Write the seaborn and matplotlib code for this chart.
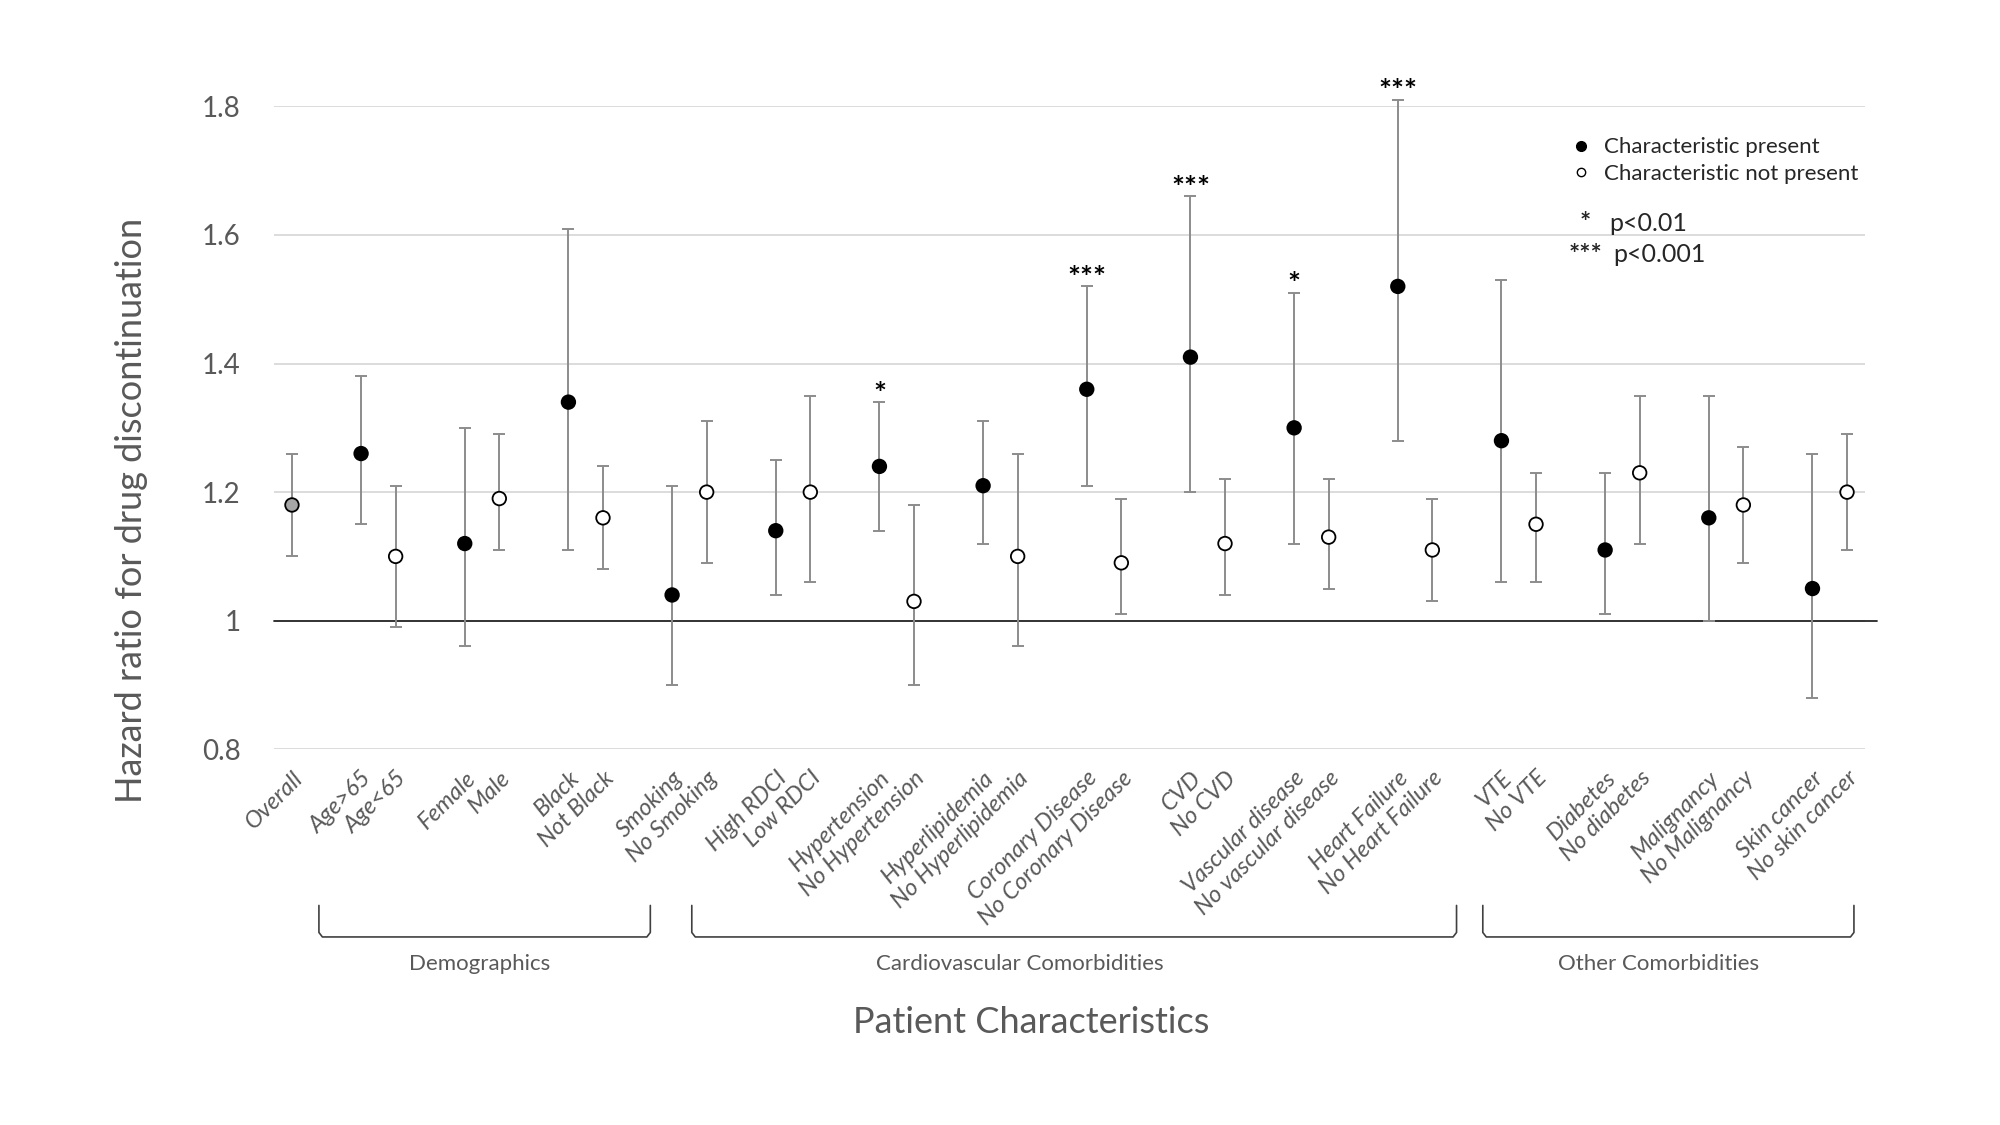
import numpy as np
import pandas as pd
import matplotlib
matplotlib.use("Agg")
import matplotlib.pyplot as plt
import matplotlib.transforms as mtransforms
from matplotlib.lines import Line2D
import seaborn as sns

# datos
etiquetas = ["Overall", "Age>65", "Age<65", "Female", "Male", "Black", "Not Black",
             "Smoking", "No Smoking", "High RDCI", "Low RDCI", "Hypertension",
             "No Hypertension", "Hyperlipidemia", "No Hyperlipidemia", "Coronary Disease",
             "No Coronary Disease", "CVD", "No CVD", "Vascular disease", "No vascular disease",
             "Heart Failure", "No Heart Failure", "VTE", "No VTE", "Diabetes", "No diabetes",
             "Malignancy", "No Malignancy", "Skin cancer", "No skin cancer"]
hr = [1.18, 1.26, 1.10, 1.12, 1.19, 1.34, 1.16, 1.04, 1.20, 1.14, 1.20, 1.24, 1.03,
      1.21, 1.10, 1.36, 1.09, 1.41, 1.12, 1.30, 1.13, 1.52, 1.11, 1.28, 1.15, 1.11,
      1.23, 1.16, 1.18, 1.05, 1.20]
ic_inf = [1.10, 1.15, 0.99, 0.96, 1.11, 1.11, 1.08, 0.90, 1.09, 1.04, 1.06, 1.14, 0.90,
          1.12, 0.96, 1.21, 1.01, 1.20, 1.04, 1.12, 1.05, 1.28, 1.03, 1.06, 1.06, 1.01,
          1.12, 1.00, 1.09, 0.88, 1.11]
ic_sup = [1.26, 1.38, 1.21, 1.30, 1.29, 1.61, 1.24, 1.21, 1.31, 1.25, 1.35, 1.34, 1.18,
          1.31, 1.26, 1.52, 1.19, 1.66, 1.22, 1.51, 1.22, 1.81, 1.19, 1.53, 1.23, 1.23,
          1.35, 1.35, 1.27, 1.26, 1.29]
estado = ["overall"] + ["present", "absent"] * 15
signif = {"Hypertension": "*", "Coronary Disease": "***", "CVD": "***",
          "Vascular disease": "*", "Heart Failure": "***"}
grupos = ["Demographics", "Cardiovascular Comorbidities", "Other Comorbidities"]
grupos_rango = [(0.78, 10.37), (11.57, 33.7), (34.46, 45.2)]
grupos_centro = [5.44, 21.07, 39.55]

# posiciones: overall solo, despues pares con un hueco entre pares
posiciones = [0] + [2 + 3 * k + j for k in range(15) for j in (0, 1)]

df = pd.DataFrame({"label": etiquetas, "pos": posiciones, "hr": hr,
                   "lo": ic_inf, "hi": ic_sup, "estado": estado})

sns.set_theme(style="white")
plt.rcParams["font.family"] = ["Lato", "DejaVu Sans"]

gris_texto = "#595959"
fig = plt.figure(figsize=(20, 11.25), dpi=100)
ax = fig.add_axes([0.137, 0.334, 0.7955, 0.5714])

# barras de error
ax.errorbar(df["pos"], df["hr"], yerr=[df["hr"] - df["lo"], df["hi"] - df["hr"]],
            fmt="none", ecolor="#8c8c8c", elinewidth=1.4, capsize=4, capthick=1.4,
            zorder=2, clip_on=False)

paleta = {"overall": "#a6a6a6", "present": "black", "absent": "white"}
sns.scatterplot(data=df, x="pos", y="hr", hue="estado", palette=paleta, s=95,
                edgecolor="black", linewidth=1.3, legend=False, zorder=3, ax=ax,
                clip_on=False)

# asteriscos de significancia
for _, fila in df.iterrows():
    if fila["label"] in signif:
        ax.annotate(signif[fila["label"]], (fila["pos"], fila["hi"]), xytext=(0, -1),
                    textcoords="offset points", ha="center", va="baseline",
                    fontsize=22, fontweight="bold", color="black",
                    annotation_clip=False)

ax.set_xlim(-0.52, 45.52)
ax.set_ylim(0.8, 1.8)
ax.set_yticks([0.8, 1.0, 1.2, 1.4, 1.6, 1.8])
ax.set_yticklabels([f"{v:g}" for v in [0.8, 1.0, 1.2, 1.4, 1.6, 1.8]])
ax.set_xticks(posiciones)
ax.set_xticklabels(etiquetas, rotation=45, ha="right", rotation_mode="anchor",
                   fontstyle="italic", fontsize=17, color=gris_texto)
ax.tick_params(axis="x", length=0, pad=13)
ax.tick_params(axis="y", length=0, pad=24, labelsize=20, labelcolor=gris_texto)
ax.grid(axis="y", color="#d9d9d9", linewidth=1.3)
ax.set_axisbelow(True)
for s in ax.spines.values():
    s.set_visible(False)
ax.axhline(1.0, xmin=0, xmax=1.0075, color="#262626", linewidth=1.3, zorder=1,
           clip_on=False)

ax.set_ylabel("Hazard ratio for drug discontinuation", fontsize=26, color=gris_texto)
ax.yaxis.set_label_coords(-0.079, 0.372)
ax.set_xlabel("Patient Characteristics", fontsize=26, color=gris_texto)
ax.xaxis.set_label_coords(0.476, -0.40)

# corchetes de grupos
trans = mtransforms.blended_transform_factory(ax.transData, ax.transAxes)
for nombre, (x0, x1), xc in zip(grupos, grupos_rango, grupos_centro):
    ax.plot([x0, x0, x0 + 0.1, x1 - 0.1, x1, x1], [-0.243, -0.285, -0.292, -0.292, -0.285, -0.243],
            color="#404040", linewidth=1.2, transform=trans, clip_on=False)
    ax.text(xc, -0.334, nombre, transform=trans, ha="center", va="center",
            fontsize=16, color=gris_texto)

# leyenda
handles = [Line2D([], [], marker="o", ls="", markersize=7, markerfacecolor="black",
                  markeredgecolor="black"),
           Line2D([], [], marker="o", ls="", markersize=6, markerfacecolor="white",
                  markeredgecolor="black", markeredgewidth=1)]
ax.legend(handles, ["Characteristic present", "Characteristic not present"],
          loc="upper left", bbox_to_anchor=(0.8146, 0.952), frameon=False,
          fontsize=16, handlelength=1.0, handletextpad=0.55, labelspacing=0.3,
          borderpad=0, borderaxespad=0)
ax.text(0.8243, 0.8186, "*", transform=ax.transAxes, ha="center", va="center",
        fontsize=19, fontweight="bold")
ax.text(0.8395, 0.8186, "p<0.01", transform=ax.transAxes, ha="left", va="center",
        fontsize=18)
ax.text(0.8140, 0.769, "***", transform=ax.transAxes, ha="left", va="center",
        fontsize=19, fontweight="bold")
ax.text(0.8420, 0.769, "p<0.001", transform=ax.transAxes, ha="left", va="center",
        fontsize=18)

fig.savefig("out.png", dpi=100, facecolor="white")
